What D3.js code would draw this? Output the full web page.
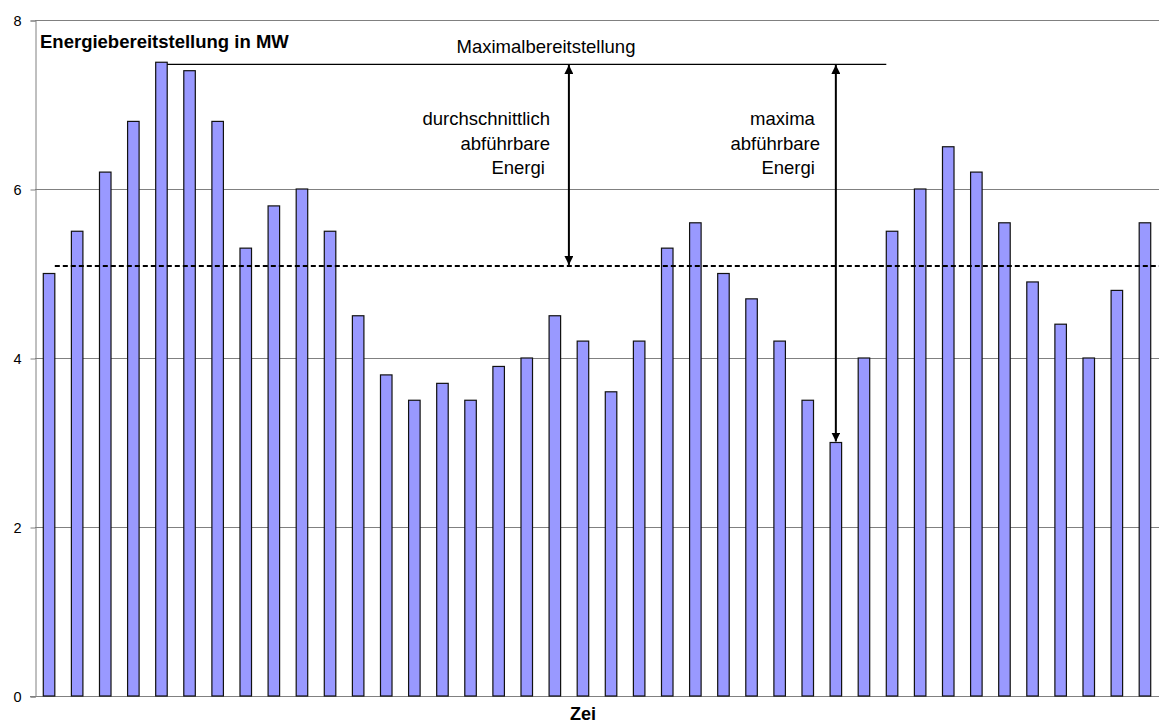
<!DOCTYPE html>
<html>
<head>
<meta charset="utf-8">
<script src="https://cdn.jsdelivr.net/npm/d3@7"></script>
<style>
  body { margin: 0; background: #fff; }
  text { font-family: Arial, "Liberation Sans", sans-serif; fill: #000; }
</style>
</head>
<body>
<div id="chart"></div>
<script>
var width = 1159, height = 724;

// bar values (MW)
var values = [5.0, 5.5, 6.2, 6.8, 7.5, 7.4, 6.8, 5.3, 5.8, 6.0,
              5.5, 4.5, 3.8, 3.5, 3.7, 3.5, 3.9, 4.0, 4.5, 4.2,
              3.6, 4.2, 5.3, 5.6, 5.0, 4.7, 4.2, 3.5, 3.0, 4.0,
              5.5, 6.0, 6.5, 6.2, 5.6, 4.9, 4.4, 4.0, 4.8, 5.6];
var yTicks = [0, 2, 4, 6, 8];
var maxLevel = 7.48, avgLevel = 5.09;
var avgText = ['durchschnittlich', 'abführbare', 'Energi '];
var maxText = ['maxima ', 'abführbare', 'Energi '];

var plotL = 35, plotR = 1159, plotT = 20, plotB = 696;

var svg = d3.select('#chart').append('svg')
  .attr('width', width)
  .attr('height', height);

var defs = svg.append('defs');
defs.append('marker')
  .attr('id', 'head')
  .attr('viewBox', '0 0 10 10')
  .attr('refX', 10).attr('refY', 5)
  .attr('markerWidth', 9).attr('markerHeight', 9)
  .attr('markerUnits', 'userSpaceOnUse')
  .attr('orient', 'auto-start-reverse')
  .append('path')
  .attr('d', 'M0,0 L10,5 L0,10 Z')
  .attr('fill', '#000');

var x = d3.scaleBand()
  .domain(d3.range(values.length))
  .range([plotL, plotR])
  .padding(0);

var y = d3.scaleLinear()
  .domain([0, 8])
  .range([plotB, plotT]);

var barW = x.bandwidth() * 0.41;
var barX = function(i) { return x(i) + (x.bandwidth() - barW) / 2; };

// grid lines
svg.append('g')
  .selectAll('line')
  .data(yTicks.filter(function(d) { return d > 0; }))
  .enter().append('line')
  .attr('x1', plotL).attr('x2', plotR)
  .attr('y1', function(d) { return y(d) + 0.5; })
  .attr('y2', function(d) { return y(d) + 0.5; })
  .attr('stroke', '#808080')
  .attr('stroke-width', 1);

// y axis
var yAxis = d3.axisLeft(y).tickValues(yTicks).tickSize(5).tickPadding(9);
var ga = svg.append('g')
  .attr('transform', 'translate(' + (plotL + 0.5) + ',0.5)')
  .call(yAxis);
ga.select('.domain').attr('stroke', '#808080');
ga.selectAll('.tick line').attr('stroke', '#808080');
ga.selectAll('.tick text')
  .style('font-family', 'Arial, "Liberation Sans", sans-serif')
  .style('font-size', '14.5px')
  .attr('fill', '#000');

// x baseline
svg.append('line')
  .attr('x1', plotL - 5).attr('x2', plotR)
  .attr('y1', plotB + 0.5).attr('y2', plotB + 0.5)
  .attr('stroke', '#808080');

// bars
svg.append('g')
  .selectAll('rect')
  .data(values)
  .enter().append('rect')
  .attr('x', function(d, i) { return barX(i); })
  .attr('y', function(d) { return y(d); })
  .attr('width', barW)
  .attr('height', function(d) { return y(0) - y(d); })
  .attr('fill', '#9999FF')
  .attr('stroke', '#111')
  .attr('stroke-width', 1.2);

// average line (dashed)
svg.append('line')
  .attr('x1', barX(0) + barW).attr('x2', plotR)
  .attr('y1', y(avgLevel)).attr('y2', y(avgLevel))
  .attr('stroke', '#000')
  .attr('stroke-width', 2)
  .attr('stroke-dasharray', '5,3');

// maximum line
svg.append('line')
  .attr('x1', barX(4) + barW).attr('x2', barX(30))
  .attr('y1', y(maxLevel) + 0.5).attr('y2', y(maxLevel) + 0.5)
  .attr('stroke', '#000')
  .attr('stroke-width', 1.2);

svg.append('text')
  .attr('x', 546).attr('y', 53)
  .attr('text-anchor', 'middle')
  .style('font-size', '18.5px')
  .text('Maximalbereitstellung');

// arrows
var ax1 = x(19), ax2 = x(28) + x.bandwidth() / 2;
svg.append('line')
  .attr('x1', ax1).attr('x2', ax1)
  .attr('y1', y(maxLevel) + 1).attr('y2', y(avgLevel) - 1)
  .attr('stroke', '#000').attr('stroke-width', 2)
  .attr('marker-start', 'url(#head)')
  .attr('marker-end', 'url(#head)');
svg.append('line')
  .attr('x1', ax2).attr('x2', ax2)
  .attr('y1', y(maxLevel) + 1).attr('y2', y(values[28]) - 1)
  .attr('stroke', '#000').attr('stroke-width', 2)
  .attr('marker-start', 'url(#head)')
  .attr('marker-end', 'url(#head)');

// annotation texts
svg.append('text')
  .attr('text-anchor', 'end')
  .style('font-size', '18.5px')
  .style('white-space', 'pre')
  .selectAll('tspan')
  .data(avgText)
  .enter().append('tspan')
  .attr('x', 550)
  .attr('y', function(d, i) { return 125 + i * 24.5; })
  .text(function(d) { return d; });

svg.append('text')
  .attr('text-anchor', 'end')
  .style('font-size', '18.5px')
  .style('white-space', 'pre')
  .selectAll('tspan')
  .data(maxText)
  .enter().append('tspan')
  .attr('x', 820)
  .attr('y', function(d, i) { return 125 + i * 24.5; })
  .text(function(d) { return d; });

// title and axis label
svg.append('text')
  .attr('x', 40).attr('y', 48)
  .style('font-size', '18.5px')
  .style('font-weight', 'bold')
  .text('Energiebereitstellung in MW');

svg.append('text')
  .attr('x', 570).attr('y', 720)
  .style('font-size', '18px')
  .style('font-weight', 'bold')
  .text('Zei');
</script>
</body>
</html>
